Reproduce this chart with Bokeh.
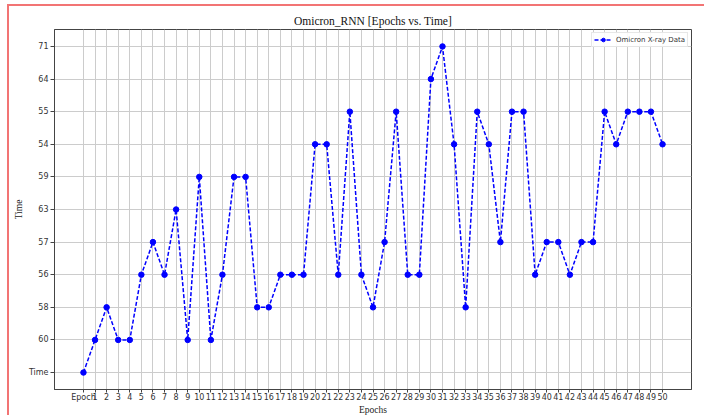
from bokeh.plotting import figure
from bokeh.models import FactorRange, ColumnDataSource
from bokeh.embed import file_html
from bokeh.resources import INLINE

# Categories (x): the CSV header "Epoch" appears as the first category
epochs = ["Epoch", "1", "2", "3", "4", "5", "6", "7", "8", "9", "10",
          "11", "12", "13", "14", "15", "16", "17", "18", "19", "20",
          "21", "22", "23", "24", "25", "26", "27", "28", "29", "30",
          "31", "32", "33", "34", "35", "36", "37", "38", "39", "40",
          "41", "42", "43", "44", "45", "46", "47", "48", "49", "50"]

# Series values (categorical strings, as plotted in the original)
times = ["Time", "60", "58", "60", "60", "56", "57", "56", "63", "60", "59",
         "60", "56", "59", "59", "58", "58", "56", "56", "56", "54",
         "54", "56", "55", "56", "58", "57", "55", "56", "56", "64",
         "71", "54", "58", "55", "54", "57", "55", "55", "56", "57",
         "57", "56", "57", "57", "55", "54", "55", "55", "55", "54"]

# Y tick labels in order of first appearance (bottom to top)
time_levels = ["Time", "60", "58", "56", "57", "63", "59", "54", "55", "64", "71"]

series_label = "Omicron X-ray Data"
title_text = "Omicron_RNN [Epochs vs. Time]"

src = ColumnDataSource(data=dict(x=epochs, y=times))

p = figure(
    width=697, height=411,
    x_range=FactorRange(factors=epochs, range_padding=2, range_padding_units="absolute"),
    y_range=FactorRange(factors=time_levels, range_padding=0.02, range_padding_units="absolute"),
    output_backend="svg", toolbar_location=None,
    min_border_left=45, min_border_right=15, min_border_top=23, min_border_bottom=25,
    title=title_text,
)
p.styles = {"border-left": "2px solid #f27474", "border-top": "2px solid #f27474",
            "margin-left": "7px", "margin-top": "4px"}

p.title.align = "center"
p.title.text_font = "Liberation Serif"
p.title.text_font_style = "normal"
p.title.text_font_size = "11.5px"
p.title.text_color = "#111111"
p.title.standoff = 5

p.line(x="x", y="y", source=src, line_color="#0000ff", line_width=1.5,
       line_dash="4 2", legend_label=series_label)
p.scatter(x="x", y="y", source=src, size=5.5, fill_color="#0000ff",
          line_color="#0000ff", legend_label=series_label)

for ax in (p.xaxis, p.yaxis):
    ax.major_label_text_font = "DejaVu Sans"
    ax.major_label_text_font_size = "8px"
    ax.major_label_text_color = "#333333"
    ax.major_tick_out = 4
    ax.major_tick_in = 0
    ax.major_tick_line_color = "#444444"
    ax.axis_line_color = "#444444"
    ax.axis_label_text_font = "Liberation Serif"
    ax.axis_label_text_font_style = "normal"
    ax.axis_label_text_font_size = "9.5px"
    ax.axis_label_text_color = "#222222"
    ax.major_label_standoff = 2
    ax.axis_label_standoff = 2

p.xaxis.axis_label = "Epochs"
p.yaxis.axis_label = "Time"
p.xaxis.major_tick_out = 3
p.xaxis.major_label_standoff = 0
p.xaxis.axis_label_standoff = 0

p.xgrid.grid_line_color = "#cccccc"
p.ygrid.grid_line_color = "#cccccc"
p.xgrid.grid_line_width = 1
p.ygrid.grid_line_width = 1

p.outline_line_color = "#444444"
p.outline_line_width = 1
p.outline_line_alpha = 1

p.legend.location = "top_right"
p.legend.margin = 3
p.legend.padding = 2
p.legend.spacing = 0
p.legend.glyph_width = 18
p.legend.glyph_height = 9
p.legend.label_height = 9
p.legend.label_standoff = 4
p.legend.label_text_font = "DejaVu Sans"
p.legend.label_text_font_size = "7px"
p.legend.label_text_color = "#333333"
p.legend.label_text_baseline = "middle"
p.legend.border_line_color = "#d0d0d0"
p.legend.background_fill_alpha = 0.9

open("out.html", "w").write(file_html(p, INLINE))
